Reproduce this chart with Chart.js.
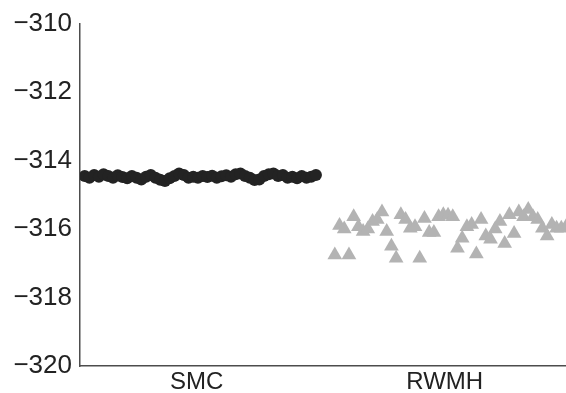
<!DOCTYPE html>
<html>
<head>
<meta charset="utf-8">
<script src="https://cdn.jsdelivr.net/npm/chart.js@4"></script>
<style>
  html, body { margin: 0; padding: 0; background: #fff; overflow: hidden; }
  #wrap { width: 566px; height: 393px; }
</style>
</head>
<body>
<div id="wrap"><canvas id="chart"></canvas></div>
<script>
const categories = ["SMC", "RWMH"]
const categoryCenters = [24.7, 77.3]
const yTicks = [-320, -318, -316, -314, -312, -310]

// log-evidence estimates, one per run
const smcValues = [
  -314.45, -314.5, -314.42, -314.47, -314.4, -314.45, -314.5, -314.43, -314.48, -314.52,
  -314.45, -314.5, -314.55, -314.47, -314.42, -314.5, -314.56, -314.6, -314.52, -314.45,
  -314.38, -314.42, -314.5, -314.47, -314.5, -314.45, -314.48, -314.44, -314.5, -314.46,
  -314.43, -314.47, -314.4, -314.38, -314.45, -314.5, -314.57, -314.55, -314.45, -314.4,
  -314.38, -314.45, -314.42, -314.5, -314.47, -314.52, -314.45, -314.5, -314.47, -314.42
]
const rwmhValues = [
  -316.76, -315.9, -316.0, -316.76, -315.64, -315.93, -316.07, -316.0, -315.78, -315.72,
  -315.5, -316.07, -316.5, -316.85, -315.58, -315.72, -315.98, -315.93, -316.85, -315.69,
  -316.1, -316.1, -315.64, -315.58, -315.6, -315.64, -316.56, -316.27, -315.93, -315.87,
  -316.73, -315.72, -316.2, -316.3, -316.0, -315.78, -316.42, -315.58, -316.13, -315.5,
  -315.64, -315.43, -315.64, -315.72, -315.98, -316.2, -315.87, -315.98, -315.98, -315.93
]
const smcStart = 1
const rwmhStart = 54

const toPoints = (values, start) => values.map((v, i) => ({ x: start + i, y: v }))

new Chart(document.getElementById("chart"), {
  type: 'scatter',
  data: {
    datasets: [
      {
        label: categories[0],
        data: toPoints(smcValues, smcStart),
        pointStyle: 'circle',
        pointRadius: 6,
        backgroundColor: '#232323',
        borderColor: '#232323',
        borderWidth: 0
      },
      {
        label: categories[1],
        data: toPoints(rwmhValues, rwmhStart),
        pointStyle: 'triangle',
        pointRadius: 8.5,
        backgroundColor: '#b3b3b3',
        borderColor: '#b3b3b3',
        borderWidth: 0
      }
    ]
  },
  options: {
    responsive: true,
    maintainAspectRatio: false,
    animation: { duration: 0 },
    layout: { autoPadding: false, padding: { top: 20, right: 0, left: 0, bottom: 0 } },
    plugins: { legend: { display: false }, tooltip: { enabled: false } },
    scales: {
      x: {
        type: 'linear',
        min: 0,
        max: 103,
        grid: { display: false, drawTicks: false },
        border: { color: '#4d4d4d', width: 1.5 },
        afterBuildTicks: (axis) => { axis.ticks = categoryCenters.map(v => ({ value: v })) },
        afterFit: (axis) => { axis.height = 27 },
        ticks: {
          color: '#222222',
          font: { family: 'Liberation Sans', size: 24 },
          padding: 2,
          maxRotation: 0,
          callback: (v) => categories[categoryCenters.indexOf(v)]
        }
      },
      y: {
        min: -320,
        max: -310,
        grid: { display: false, drawTicks: false },
        border: { color: '#4d4d4d', width: 1.5 },
        afterBuildTicks: (axis) => { axis.ticks = yTicks.map(v => ({ value: v })) },
        afterFit: (axis) => { axis.width = 80 },
        ticks: {
          color: '#222222',
          font: { family: 'Liberation Sans', size: 26 },
          padding: 8,
          callback: (v) => String(v).replace('-', '\u2212')
        }
      }
    }
  }
})
</script>
</body>
</html>
